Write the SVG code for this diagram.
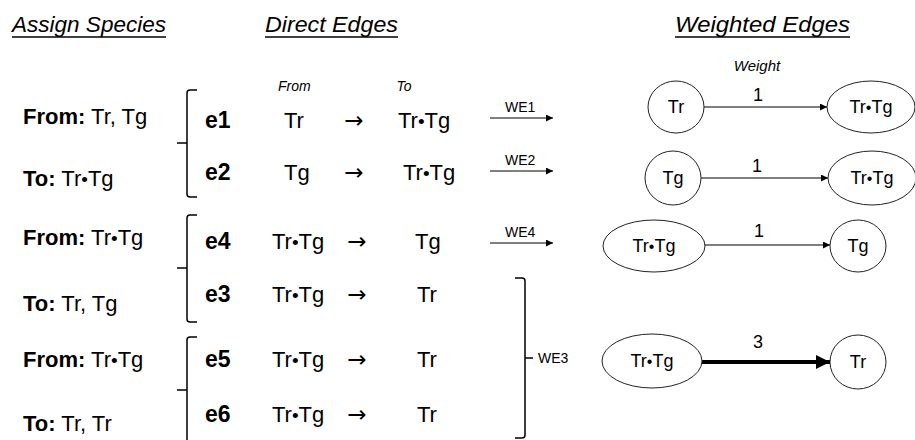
<svg xmlns="http://www.w3.org/2000/svg" width="915" height="440" viewBox="0 0 915 440">
<style>
text{font-family:"Liberation Sans",Arial,sans-serif;fill:#000}
.title{font-size:22px;font-style:italic}
.lbl{font-size:22px}
.b{font-weight:bold}
.e{font-size:23px;font-weight:bold}
.sm{font-size:14px;font-style:italic}
.we{font-size:14px}
.num{font-size:18px;text-anchor:middle}
.nt{font-size:18px;text-anchor:middle}
.ar{font-family:"DejaVu Sans",sans-serif;font-size:23px;text-anchor:middle}
.dot{font-size:19px}
.ndot{font-size:16px}
.brk{fill:none;stroke:#000;stroke-width:1.5}
.ul{stroke:#000;stroke-width:1.3}
.node{fill:#fff;stroke:#222;stroke-width:1}
.edge{stroke:#000;stroke-width:1.1;fill:none}
.thick{stroke:#000;stroke-width:4;fill:none}
</style>
<defs>
<marker id="arr" viewBox="0 0 10 10" refX="10" refY="5" markerWidth="10" markerHeight="7" markerUnits="userSpaceOnUse" orient="auto"><path d="M0,0 L10,5 L0,10 z" fill="#000"/></marker>
<marker id="arrBig" viewBox="0 0 10 10" refX="10" refY="5" markerWidth="16" markerHeight="14" markerUnits="userSpaceOnUse" orient="auto"><path d="M0,0 L10,5 L0,10 z" fill="#000"/></marker>
</defs>
<rect width="915" height="440" fill="#fff"/>

<!-- Titles -->
<g id="titles">
<text class="title" x="12" y="32" textLength="154" lengthAdjust="spacingAndGlyphs">Assign Species</text>
<line class="ul" x1="12" y1="37" x2="166" y2="37"/>
<text class="title" x="265" y="32" textLength="133" lengthAdjust="spacingAndGlyphs">Direct Edges</text>
<line class="ul" x1="265" y1="37" x2="398" y2="37"/>
<text class="title" x="675" y="32" textLength="175" lengthAdjust="spacingAndGlyphs">Weighted Edges</text>
<line class="ul" x1="675" y1="37" x2="850" y2="37"/>
<text class="sm" x="278" y="91">From</text>
<text class="sm" x="404" y="91" text-anchor="middle">To</text>
<text class="sm" x="757" y="71" text-anchor="middle" style="font-size:15px">Weight</text>
</g>

<!-- Assign species -->
<g id="assign">
<text class="lbl" x="23" y="124"><tspan class="b">From:</tspan> Tr, Tg</text>
<text class="lbl" x="23" y="186"><tspan class="b">To:</tspan> Tr<tspan class="dot">•</tspan>Tg</text>
<text class="lbl" x="23" y="245"><tspan class="b">From:</tspan> Tr<tspan class="dot">•</tspan>Tg</text>
<text class="lbl" x="23" y="311"><tspan class="b">To:</tspan> Tr, Tg</text>
<text class="lbl" x="23" y="367"><tspan class="b">From:</tspan> Tr<tspan class="dot">•</tspan>Tg</text>
<text class="lbl" x="23" y="431"><tspan class="b">To:</tspan> Tr, Tr</text>
</g>

<!-- Brackets -->
<g id="brackets">
<path class="brk" d="M197,90 L190,90 Q187,90 187,93 L187,194 Q187,197 190,197 L197,197 M177,143 L187,143"/>
<path class="brk" d="M197,215 L190,215 Q187,215 187,218 L187,319 Q187,322 190,322 L197,322 M177,268 L187,268"/>
<path class="brk" d="M197,337 L190,337 Q187,337 187,340 L187,442 M177,390 L187,390"/>
<path class="brk" d="M515,278 L522,278 Q525,278 525,281 L525,435 Q525,438 522,438 L515,438 M525,358 L533,358"/>
</g>

<!-- Direct edges -->
<g id="direct">
<text class="e" x="205" y="128">e1</text>
<text class="lbl" x="284" y="128">Tr</text>
<text class="ar" x="354" y="128">→</text>
<text class="lbl" x="398" y="128">Tr<tspan class="dot">•</tspan>Tg</text>

<text class="e" x="205" y="180">e2</text>
<text class="lbl" x="284" y="180">Tg</text>
<text class="ar" x="354" y="180">→</text>
<text class="lbl" x="403" y="180">Tr<tspan class="dot">•</tspan>Tg</text>

<text class="e" x="205" y="249">e4</text>
<text class="lbl" x="272" y="249">Tr<tspan class="dot">•</tspan>Tg</text>
<text class="ar" x="357" y="249">→</text>
<text class="lbl" x="415" y="249">Tg</text>

<text class="e" x="205" y="302">e3</text>
<text class="lbl" x="272" y="302">Tr<tspan class="dot">•</tspan>Tg</text>
<text class="ar" x="357" y="302">→</text>
<text class="lbl" x="417" y="302">Tr</text>

<text class="e" x="205" y="367">e5</text>
<text class="lbl" x="272" y="367">Tr<tspan class="dot">•</tspan>Tg</text>
<text class="ar" x="357" y="367">→</text>
<text class="lbl" x="417" y="367">Tr</text>

<text class="e" x="205" y="422">e6</text>
<text class="lbl" x="272" y="422">Tr<tspan class="dot">•</tspan>Tg</text>
<text class="ar" x="357" y="422">→</text>
<text class="lbl" x="417" y="422">Tr</text>

<text class="we" x="505" y="112">WE1</text>
<text class="we" x="505" y="165">WE2</text>
<text class="we" x="505" y="237">WE4</text>
<text class="we" x="538" y="363">WE3</text>
</g>

<!-- Connectors -->
<g id="connectors">
<line class="edge" x1="490" y1="118" x2="553" y2="118" marker-end="url(#arr)"/>
<line class="edge" x1="490" y1="171" x2="553" y2="171" marker-end="url(#arr)"/>
<line class="edge" x1="490" y1="243" x2="553" y2="243" marker-end="url(#arr)"/>
<line class="edge" x1="704" y1="107" x2="827" y2="107" marker-end="url(#arr)"/>
<line class="edge" x1="701" y1="178" x2="828" y2="178" marker-end="url(#arr)"/>
<line class="edge" x1="705" y1="245" x2="830" y2="245" marker-end="url(#arr)"/>
<line class="thick" x1="702" y1="362" x2="830" y2="362" marker-end="url(#arrBig)"/>
<text class="num" x="758" y="101">1</text>
<text class="num" x="757" y="172">1</text>
<text class="num" x="759" y="237">1</text>
<text class="num" x="758" y="348">3</text>
</g>

<!-- Weighted edge nodes -->
<g id="n1_Tr"><ellipse class="node" cx="676" cy="107" rx="28" ry="26"/><text class="nt" x="676" y="113">Tr</text></g>
<g id="n1_TrTg"><ellipse class="node" cx="871" cy="107" rx="44" ry="26"/><text class="nt" x="871" y="113">Tr<tspan class="ndot">•</tspan>Tg</text></g>
<g id="n2_Tg"><ellipse class="node" cx="673" cy="178" rx="28" ry="27"/><text class="nt" x="673" y="184">Tg</text></g>
<g id="n2_TrTg"><ellipse class="node" cx="872" cy="178" rx="44" ry="27"/><text class="nt" x="872" y="184">Tr<tspan class="ndot">•</tspan>Tg</text></g>
<g id="n3_TrTg"><ellipse class="node" cx="654" cy="246" rx="51" ry="26"/><text class="nt" x="654" y="252">Tr<tspan class="ndot">•</tspan>Tg</text></g>
<g id="n3_Tg"><ellipse class="node" cx="858" cy="246" rx="28" ry="26"/><text class="nt" x="858" y="252">Tg</text></g>
<g id="n4_TrTg"><ellipse class="node" cx="652" cy="361" rx="50" ry="27"/><text class="nt" x="652" y="367">Tr<tspan class="ndot">•</tspan>Tg</text></g>
<g id="n4_Tr"><ellipse class="node" cx="858" cy="362" rx="28" ry="27"/><text class="nt" x="858" y="368">Tr</text></g>
</svg>
